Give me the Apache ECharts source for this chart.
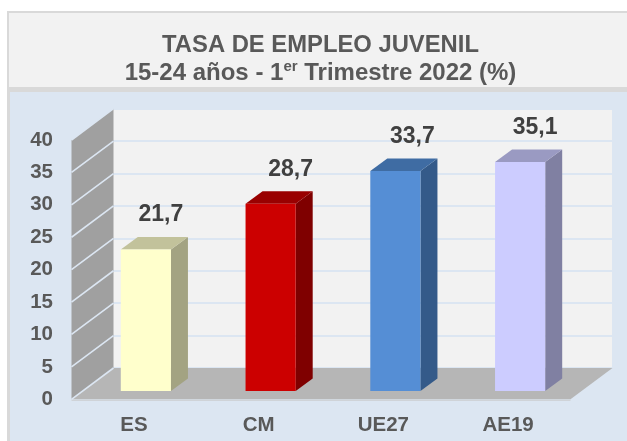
<!DOCTYPE html>
<html><head><meta charset="utf-8">
<style>html,body{margin:0;padding:0;background:#fff}#c{width:627px;height:441px}</style>
<script src="https://cdn.jsdelivr.net/npm/echarts@6/dist/echarts.min.js"></script>
</head><body><div id="c"></div>
<script>
const categories = ['ES', 'CM', 'UE27', 'AE19'];
const values = [21.7, 28.7, 33.7, 35.1];
const valueLabels = ['21,7', '28,7', '33,7', '35,1'];
const yTicks = [0, 5, 10, 15, 20, 25, 30, 35, 40];
const frontColors = ['#ffffcc', '#cc0000', '#558ed5', '#ccccff'];
const topColors = ['#c2c29b', '#990000', '#3f6ca3', '#9a9ac2'];
const sideColors = ['#a3a382', '#7f0000', '#345a89', '#8080a2'];
const labelShift = [15, 20, 17, 15];

const font = '"Liberation Sans", Arial, sans-serif';
const wallDepth = [42, -31.3];
const barDepth = [17, -12.5];
const chart = echarts.init(document.getElementById('c'), null, {renderer: 'canvas'});

function wallItem(params, api) {
  const rect = params.coordSys;
  const l = rect.x, r = rect.x + rect.width, dx = wallDepth[0], dy = wallDepth[1];
  const y0 = api.coord([0, 0])[1], yTop = api.coord([0, 40])[1];
  const kids = [];
  if (params.dataIndex === 0) {
    kids.push({type: 'polygon', shape: {points: [[l, y0], [r, y0], [r + dx, y0 + dy], [l + dx, y0 + dy]]},
      style: {fill: '#b6b6b6'}});
    kids.push({type: 'polygon', shape: {points: [[l, y0], [l + dx, y0 + dy], [l + dx, yTop + dy], [l, yTop]]},
      style: {fill: '#a0a0a0'}});
    kids.push({type: 'line', shape: {x1: l, y1: y0 + 1, x2: r, y2: y0 + 1},
      style: {stroke: '#cfd3d8', lineWidth: 1.5}});
  }
  const y = api.coord([0, api.value(0)])[1];
  kids.push({type: 'line', shape: {x1: l, y1: y, x2: l + dx, y2: y + dy},
    style: {stroke: '#dce6f2', lineWidth: 1.6}});
  return {type: 'group', children: kids};
}

function barItem(params, api) {
  const i = params.dataIndex;
  const base = api.coord([i, 0]);
  const top = api.coord([i, api.value(1)]);
  const w = api.size([1, 0])[0] * 0.402;
  const x0 = base[0] - w / 2, x1 = base[0] + w / 2;
  const dx = barDepth[0], dy = barDepth[1];
  return {type: 'group', children: [
    {type: 'polygon', shape: {points: [[x1, base[1]], [x1 + dx, base[1] + dy], [x1 + dx, top[1] + dy], [x1, top[1]]]},
      style: {fill: sideColors[i]}},
    {type: 'polygon', shape: {points: [[x0, top[1]], [x1, top[1]], [x1 + dx, top[1] + dy], [x0 + dx, top[1] + dy]]},
      style: {fill: topColors[i]}},
    {type: 'rect', shape: {x: x0, y: top[1], width: w, height: base[1] - top[1]},
      style: {fill: frontColors[i]}},
    {type: 'text', style: {text: valueLabels[i], x: base[0] + labelShift[i], y: top[1] + dy - 22,
      align: 'center', verticalAlign: 'middle', fill: '#404040', font: 'bold 23px ' + font}}
  ]};
}

chart.setOption({
  animation: false,
  backgroundColor: '#ffffff',
  graphic: [
    {type: 'rect', z: -10, shape: {x: 7, y: 11, width: 620, height: 430}, style: {fill: '#d9d9d9'}},
    {type: 'rect', z: -9, shape: {x: 9, y: 13, width: 618, height: 74}, style: {fill: '#f2f2f2'}},
    {type: 'rect', z: -9, shape: {x: 10, y: 92, width: 617, height: 349}, style: {fill: '#dce6f2'}}
  ],
  title: {
    left: 315.5, top: 26, textAlign: 'center',
    text: '{a|TASA DE EMPLEO JUVENIL}\n{b|15-24 años - 1}{s|er}{b| Trimestre 2022 (%)}',
    textStyle: {
      fontFamily: font,
      rich: {
        a: {fontFamily: font, fontWeight: 'bold', fontSize: 23.8, color: '#595959', lineHeight: 28},
        b: {fontFamily: font, fontWeight: 'bold', fontSize: 24, color: '#595959', lineHeight: 28},
        s: {fontFamily: font, fontWeight: 'bold', fontSize: 15, color: '#595959', lineHeight: 28, verticalAlign: 'top', padding: [0, 0, 4, 0]}
      }
    }
  },
  grid: [
    {left: 71.5, width: 499, top: 140, height: 259.3},
    {left: 83.5, width: 499, top: 130, height: 261},
    {left: 113, width: 499, top: 108.7, height: 259.3, show: true, backgroundColor: '#f2f2f2', borderWidth: 0}
  ],
  xAxis: [
    {gridIndex: 0, type: 'category', data: categories, axisLine: {show: false}, axisTick: {show: false},
      axisLabel: {margin: 16, color: '#595959', fontFamily: font, fontWeight: 'bold', fontSize: 20.5}},
    {gridIndex: 1, type: 'category', data: categories, show: false},
    {gridIndex: 2, type: 'category', data: categories, show: false}
  ],
  yAxis: [
    {gridIndex: 0, type: 'value', min: 0, max: 40, interval: 5, axisLine: {show: false}, axisTick: {show: false},
      splitLine: {show: false},
      axisLabel: {margin: 18.5, color: '#595959', fontFamily: font, fontWeight: 'bold', fontSize: 20.5}},
    {gridIndex: 1, type: 'value', min: 0, max: 40, interval: 5, show: false, splitLine: {show: false}},
    {gridIndex: 2, type: 'value', min: 0, max: 40, interval: 5,
      axisLine: {show: false}, axisTick: {show: false}, axisLabel: {show: false},
      splitLine: {show: true, lineStyle: {color: '#dce6f2', width: 2}}}
  ],
  series: [
    {type: 'custom', xAxisIndex: 0, yAxisIndex: 0, z: 2, silent: true,
      renderItem: wallItem, data: yTicks.map(v => [v]), encode: {y: 0}, clip: false},
    {type: 'custom', xAxisIndex: 1, yAxisIndex: 1, z: 3, silent: true,
      renderItem: barItem, data: values.map((v, i) => [i, v]), encode: {x: 0, y: 1}, clip: false}
  ]
});
</script></body></html>
